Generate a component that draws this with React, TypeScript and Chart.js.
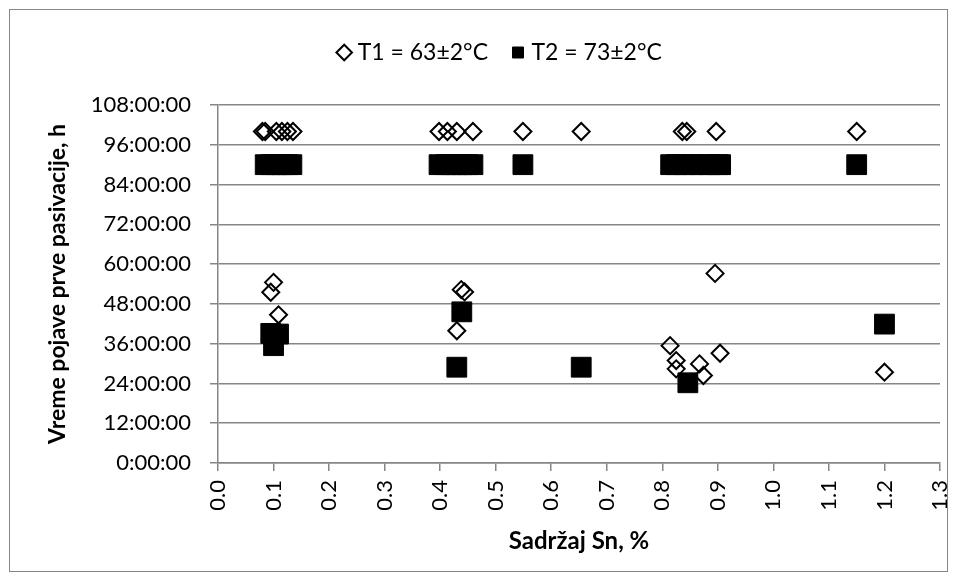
import React, { useEffect, useRef } from "react";
import { Chart, registerables } from "chart.js";

Chart.register(...registerables);

// ---- Data (Sn content in %, time to first passivation in hours) ----
const T1_LABEL = "T1 = 63±2°C";
const T2_LABEL = "T2 = 73±2°C";
const X_TITLE = "Sadržaj Sn, %";
const Y_TITLE = "Vreme pojave prve pasivacije, h";

const t1Sn = [
  0.08, 0.085, 0.105, 0.115, 0.125, 0.135,
  0.398, 0.413, 0.43, 0.459,
  0.549, 0.654,
  0.836, 0.844, 0.897,
  1.15,
  0.1, 0.095, 0.109,
  0.438, 0.444, 0.43,
  0.895, 1.2,
  0.814, 0.825, 0.825, 0.867, 0.874, 0.904,
];
const t1Hours = [
  100, 100, 100, 100, 100, 100,
  100, 100, 100, 100,
  100, 100,
  100, 100, 100,
  100,
  54.5, 51.5, 44.7,
  52.3, 51.6, 39.9,
  57.2, 27.4,
  35.4, 30.9, 28.4, 29.9, 26.4, 33.1,
];

const t2Sn = [
  0.085, 0.095, 0.105, 0.115, 0.125, 0.133,
  0.398, 0.41, 0.42, 0.43, 0.44, 0.45, 0.459,
  0.549,
  0.815, 0.825, 0.84, 0.855, 0.87, 0.885, 0.9, 0.905,
  1.15,
  0.095, 0.109, 0.1,
  0.439, 0.43,
  0.654, 1.2, 0.846,
];
const t2Hours = [
  90, 90, 90, 90, 90, 90,
  90, 90, 90, 90, 90, 90, 90,
  90,
  90, 90, 90, 90, 90, 90, 90, 90,
  90,
  39.1, 38.9, 35.4,
  45.6, 28.9,
  28.9, 41.9, 24.2,
];

const xTickValues = [0, 0.1, 0.2, 0.3, 0.4, 0.5, 0.6, 0.7, 0.8, 0.9, 1.0, 1.1, 1.2, 1.3];
const xTickLabels = ["0.0", "0.1", "0.2", "0.3", "0.4", "0.5", "0.6", "0.7", "0.8", "0.9", "1.0", "1.1", "1.2", "1.3"];
const yTickHours = [0, 12, 24, 36, 48, 60, 72, 84, 96, 108];
const yTickLabels = ["0:00:00", "12:00:00", "24:00:00", "36:00:00", "48:00:00", "60:00:00", "72:00:00", "84:00:00", "96:00:00", "108:00:00"];

const FONT = "Lato";
const GRID = "#868686";

const framePlugin = {
  id: "frame",
  afterLayout(chart: any) {
    const lg = chart.legend;
    if (lg) {
      const dx = 27;
      const dy = -31;
      lg.left += dx;
      lg.right += dx;
      lg.top += dy;
      lg.bottom += dy;
    }
  },
  beforeDraw(chart: any) {
    const ctx = chart.ctx;
    ctx.save();
    ctx.fillStyle = "#ffffff";
    ctx.fillRect(0, 0, chart.width, chart.height);
    ctx.strokeStyle = GRID;
    ctx.lineWidth = 1;
    ctx.strokeRect(9.5, 9.5, 938, 562);
    ctx.restore();
  },
};

export default function App() {
  const canvasRef = useRef<HTMLCanvasElement | null>(null);

  useEffect(() => {
    if (!canvasRef.current) return;
    const chart = new Chart(canvasRef.current, {
      type: "scatter",
      data: {
        datasets: [
          {
            label: T1_LABEL,
            data: t1Sn.map((x, i) => ({ x, y: t1Hours[i] })),
            pointStyle: "rectRot",
            pointRadius: 8.5,
            pointBorderWidth: 2,
            borderWidth: 2,
            borderColor: "#000000",
            backgroundColor: "rgba(255,255,255,0)",
            pointBackgroundColor: "rgba(255,255,255,0)",
            pointBorderColor: "#000000",
            order: 1,
          },
          {
            label: T2_LABEL,
            data: t2Sn.map((x, i) => ({ x, y: t2Hours[i] })),
            pointStyle: "rect",
            pointRadius: 14,
            pointBorderWidth: 1,
            borderWidth: 1,
            borderColor: "#000000",
            backgroundColor: "#000000",
            pointBackgroundColor: "#000000",
            pointBorderColor: "#000000",
            order: 0,
          },
        ],
      },
      options: {
        responsive: false,
        animation: false,
        devicePixelRatio: 1,
        layout: { padding: { left: 10, right: 17, top: 44, bottom: 10 } },
        plugins: {
          tooltip: { enabled: false },
          legend: {
            display: true,
            position: "top",
            labels: {
              usePointStyle: true,
              boxWidth: 4,
              boxHeight: 11,
              padding: 28,
              color: "#000000",
              font: { family: FONT, size: 23 },
              sort: (a: any, b: any) => a.datasetIndex - b.datasetIndex,
            },
          },
        },
        scales: {
          x: {
            type: "linear",
            min: 0,
            max: 1.3,
            afterBuildTicks: (scale: any) => {
              scale.ticks = xTickValues.map((v) => ({ value: v }));
            },
            afterFit: (scale: any) => {
              scale.height = 108;
              scale.paddingLeft = 0;
              scale.paddingRight = 0;
            },
            ticks: {
              minRotation: 90,
              maxRotation: 90,
              padding: 9,
              color: "#000000",
              font: { family: FONT, size: 22 },
              callback: (_v: any, i: number) => xTickLabels[i],
            },
            grid: {
              drawOnChartArea: false,
              drawTicks: true,
              tickLength: 8,
              color: GRID,
              lineWidth: 1.5,
            },
            border: { display: true, color: GRID, width: 1.5 },
            title: {
              display: true,
              text: X_TITLE,
              color: "#000000",
              font: { family: FONT, size: 24, weight: "bold" },
              padding: { top: 0, bottom: 15 },
            },
          },
          y: {
            type: "linear",
            min: 0,
            max: 108,
            afterBuildTicks: (scale: any) => {
              scale.ticks = yTickHours.map((v) => ({ value: v }));
            },
            afterFit: (scale: any) => {
              scale.width = 208;
            },
            ticks: {
              padding: 19,
              color: "#000000",
              font: { family: FONT, size: 22 },
              callback: (_v: any, i: number) => yTickLabels[i],
            },
            grid: {
              drawOnChartArea: true,
              drawTicks: true,
              tickLength: 8,
              color: GRID,
              lineWidth: 1.5,
            },
            border: { display: true, color: GRID, width: 1.5 },
            title: {
              display: true,
              text: Y_TITLE,
              color: "#000000",
              font: { family: FONT, size: 23, weight: "bold" },
              padding: { top: 34, bottom: 0 },
            },
          },
        },
      },
      plugins: [framePlugin],
    });
    return () => chart.destroy();
  }, []);

  return (
    <div style={{ position: "absolute", left: 0, top: 0, width: 957, height: 581 }}>
      <canvas ref={canvasRef} width={957} height={581} style={{ display: "block" }} />
    </div>
  );
}
